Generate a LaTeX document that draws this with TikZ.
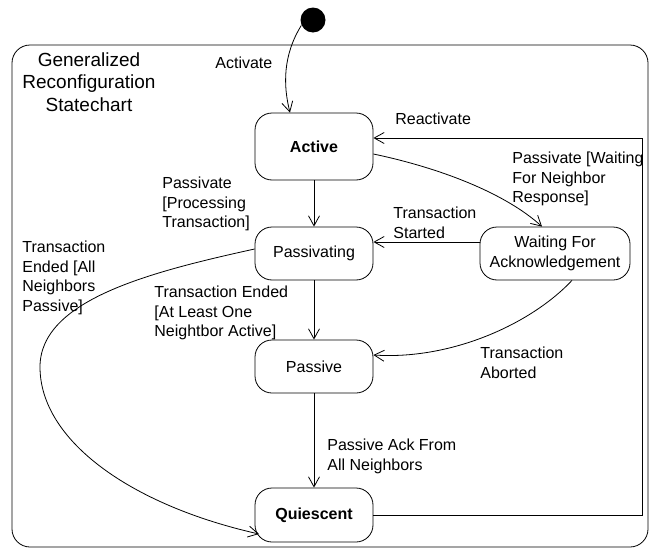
\documentclass[tikz,border=0pt]{standalone}
\usepackage{fontspec}
\setmainfont{Liberation Sans}
\usetikzlibrary{arrows.meta,calc}
\begin{document}
\begin{tikzpicture}[x=1pt,y=-1pt,
  line width=0.8pt,
  state/.style={draw,rounded corners=17pt,minimum width=118pt,minimum height=53pt,inner sep=0pt,font=\fontsize{16}{19.5}\selectfont,align=center},
  lbl/.style={anchor=north west,inner sep=0pt,align=left,font=\fontsize{16}{19.5}\selectfont},
  arr/.style={-{Straight Barb[length=10pt,width=11pt,line width=0.8pt]}}]
\useasboundingbox (0,0) rectangle (649,549);
% frame
\draw[rounded corners=18pt] (12,45) rectangle (648,547);
\node[anchor=north,inner sep=0pt,align=center,font=\fontsize{19}{22.5}\selectfont] (title) at (89,52) {Generalized\\Reconfiguration\\Statechart};
% states
\node[circle,fill,minimum size=25pt,inner sep=0pt] (init) at (313,20) {};
\node[state,minimum height=67pt,font=\fontsize{16}{19.5}\selectfont\bfseries] (act) at (314,146.5) {Active};
\node[state] (pasg) at (314,253.5) {Passivating};
\node[state,minimum width=150pt] (wait) at (555,253.5) {Waiting For\\Acknowledgement};
\node[state] (pas) at (314,366.5) {Passive};
\node[state,minimum height=54pt,font=\fontsize{16}{19.5}\selectfont\bfseries] (qui) at (314,515) {Quiescent};
% connectors
\draw[arr] (init.205) .. controls (283,55) and (283,85) .. ($(act.north)+(-24,0)$);
\draw[arr] (act.south) -- (pasg.north);
\draw[arr] (pasg.south) -- (pas.north);
\draw[arr] (pas.south) -- (qui.north);
\coordinate (rc) at (642,138);
\draw[arr] (qui.east) -| (rc) -- ($(act.east)+(0,-8.5)$);
\draw[arr] ($(act.east)+(0,7.5)$) .. controls (440,168) and (505,193) .. ($(wait.north)+(-13,0)$);
\draw[arr] ($(wait.west)+(0,-11.5)$) -- ($(pasg.east)+(0,-11.5)$);
\draw[arr] ($(wait.south)+(17,0)$) .. controls (530,325) and (450,360) .. ($(pas.east)+(0,-11.5)$);
\draw[arr] ($(pasg.west)+(0,-4.5)$) .. controls (150,272) and (40,300) .. (40,367) .. controls (40,440) and (130,505) .. ($(qui.center)+(-55,19)$);
% labels
\node[lbl] (l1) at (215,57) {Activate};
\node[lbl] (l2) at (162,177) {Passivate\\{[}Processing\\Transaction]};
\node[lbl] (l3) at (512,152) {Passivate [Waiting\\For Neighbor\\Response]};
\node[lbl] (l4) at (395,113) {Reactivate};
\node[lbl] (l5) at (393,207) {Transaction\\Started};
\node[lbl] (l6) at (22,241) {Transaction\\Ended [All\\Neighbors\\Passive]};
\node[lbl] (l7) at (154,286) {Transaction Ended\\{[}At Least One\\Neightbor Active]};
\node[lbl] (l8) at (480,347) {Transaction\\Aborted};
\node[lbl] (l9) at (327,439) {Passive Ack From\\All Neighbors};
\end{tikzpicture}
\end{document}
